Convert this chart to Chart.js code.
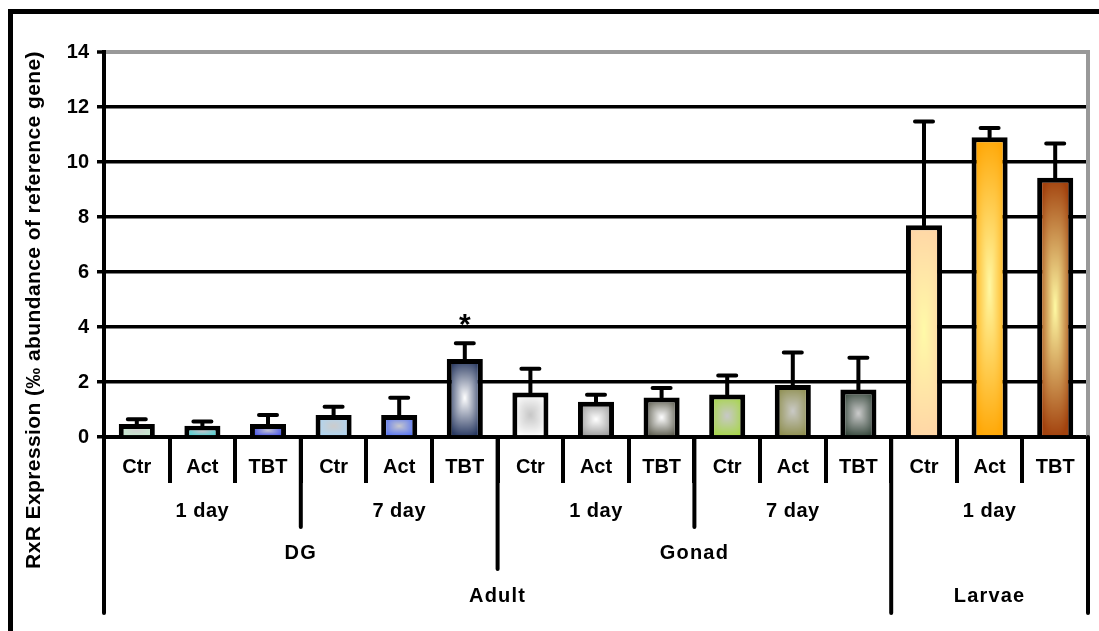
<!DOCTYPE html>
<html>
<head>
<meta charset="utf-8">
<script src="https://cdn.jsdelivr.net/npm/chart.js@4.4.1/dist/chart.umd.min.js"></script>
<style>
  html, body { margin: 0; padding: 0; background: #fff; overflow: hidden; width: 1099px; height: 631px; }
  #wrap { position: relative; width: 1099px; height: 631px; }
  #wrap canvas { position: absolute; left: 0; top: 0; }
  #frame { position: absolute; left: 8px; top: 9px; width: 1200px; height: 700px;
           border: 5px solid #000; box-sizing: border-box; pointer-events: none; }
</style>
</head>
<body>
<div id="wrap">
  <canvas id="chart" width="1099" height="631"></canvas>
  <div id="frame"></div>
</div>
<script>
// ---- data -------------------------------------------------------------
const treatment = ['Ctr', 'Act', 'TBT', 'Ctr', 'Act', 'TBT', 'Ctr', 'Act', 'TBT',
                   'Ctr', 'Act', 'TBT', 'Ctr', 'Act', 'TBT'];
const period = ['1 day', '1 day', '1 day', '7 day', '7 day', '7 day',
                '1 day', '1 day', '1 day', '7 day', '7 day', '7 day',
                '1 day', '1 day', '1 day'];
const tissue = ['DG', 'DG', 'DG', 'DG', 'DG', 'DG',
                'Gonad', 'Gonad', 'Gonad', 'Gonad', 'Gonad', 'Gonad',
                '', '', ''];
const stage = ['Adult', 'Adult', 'Adult', 'Adult', 'Adult', 'Adult',
               'Adult', 'Adult', 'Adult', 'Adult', 'Adult', 'Adult',
               'Larvae', 'Larvae', 'Larvae'];

const expression   = [0.47, 0.41, 0.47, 0.80, 0.80, 2.84, 1.62, 1.28, 1.44, 1.55, 1.89, 1.73, 7.70, 10.90, 9.43];
const expressionSE = [0.18, 0.15, 0.33, 0.30, 0.63, 0.57, 0.86, 0.26, 0.34, 0.69, 1.18, 1.15, 3.77, 0.34, 1.24];
const significance = ['', '', '', '', '', '*', '', '', '', '', '', '', '', '', ''];

const yMin = 0, yMax = 14, yStep = 2;
const yTitle = 'RxR Expression (\u2030 abundance of reference gene)';

// ---- styling ----------------------------------------------------------
const edgeColors   = ['#c4eed0', '#3ed4d4', '#3444ee', '#acd6f6', '#4e6ef6', '#2a3a62',
                      '#ffffff', '#9c9c9c', '#5a5a4c', '#a6d646', '#8e8e4e', '#34463a',
                      '#ffd6a6', '#ffa808', '#a2420e'];
const centerColors = ['#d2d2d2', '#c4c4cc', '#c4c4d0', '#cccccc', '#c8c8cc', '#ffffff',
                      '#c6c6c6', '#ffffff', '#ffffff', '#c8c8c8', '#cacac6', '#cccccc',
                      '#fffaa8', '#fff8a4', '#fffaa4'];
const BAR_PCT = 0.55;
const FONT = 'Arial, "Liberation Sans", Helvetica, sans-serif';

Chart.defaults.font.family = FONT;
Chart.defaults.color = '#000';

function hexRgb(h) {
  const n = parseInt(h.slice(1), 16);
  return [(n >> 16) & 255, (n >> 8) & 255, n & 255];
}

// rounded-rectangle "from centre" gradient painted into a small canvas
const fillCache = {};
function rectGradient(w, h, edge, center) {
  const cv = document.createElement('canvas');
  cv.width = w; cv.height = h;
  const g = cv.getContext('2d');
  const img = g.createImageData(w, h);
  const e = hexRgb(edge), c = hexRgb(center);
  const hw = w / 2, hh = h / 2, p = 3;
  for (let y = 0; y < h; y++) {
    for (let x = 0; x < w; x++) {
      const dx = Math.abs(x + 0.5 - hw) / hw;
      const dy = Math.abs(y + 0.5 - hh) / hh;
      const t = Math.min(1, Math.pow(Math.pow(dx, p) + Math.pow(dy, p), 1 / p));
      const k = (y * w + x) * 4;
      img.data[k]     = Math.round(c[0] + (e[0] - c[0]) * t);
      img.data[k + 1] = Math.round(c[1] + (e[1] - c[1]) * t);
      img.data[k + 2] = Math.round(c[2] + (e[2] - c[2]) * t);
      img.data[k + 3] = 255;
    }
  }
  g.putImageData(img, 0, 0);
  return cv;
}

function barFill(ctx) {
  const i = ctx.dataIndex;
  const chart = ctx.chart;
  const xs = chart.scales.x, ys = chart.scales.y;
  const plain = edgeColors[i] || edgeColors[0];
  if (ctx.type !== 'data' || !xs || !ys || i === undefined) return plain;
  const step = Math.abs(xs.getPixelForValue(1) - xs.getPixelForValue(0));
  const top = ys.getPixelForValue(expression[i]);
  const base = ys.getPixelForValue(0);
  const cx = xs.getPixelForValue(i);
  if (![step, top, base, cx].every(Number.isFinite) || step < 2) return plain;
  const w = Math.max(2, Math.round(step * BAR_PCT));
  const h = Math.max(2, Math.round(base - top));
  const key = i + ':' + w + ':' + h;
  const cv = fillCache[key] || (fillCache[key] = rectGradient(w, h, edgeColors[i], centerColors[i]));
  const pat = chart.ctx.createPattern(cv, 'no-repeat');
  pat.setTransform(new DOMMatrix([1, 0, 0, 1, cx - w / 2, top]));
  return pat;
}

// ---- plugins ----------------------------------------------------------
const errorBars = {
  id: 'errorBars',
  afterDatasetsDraw(chart) {
    const meta = chart.getDatasetMeta(0);
    const ys = chart.scales.y;
    const c = chart.ctx;
    c.save();
    c.strokeStyle = '#000';
    c.lineWidth = 4;
    c.lineCap = 'round';
    meta.data.forEach((bar, i) => {
      const yMean = ys.getPixelForValue(expression[i]);
      const yTop = ys.getPixelForValue(expression[i] + expressionSE[i]);
      c.beginPath();
      c.moveTo(bar.x, yMean);
      c.lineTo(bar.x, yTop);
      c.moveTo(bar.x - 9, yTop);
      c.lineTo(bar.x + 9, yTop);
      c.stroke();
      if (significance[i]) {
        c.fillStyle = '#000';
        c.font = 'bold 30px ' + FONT;
        c.textAlign = 'center';
        c.textBaseline = 'alphabetic';
        c.fillText(significance[i], bar.x, yTop - 9);
      }
    });
    c.restore();
  }
};

// multi-level category labels below the x axis
const groupLevels = [period, tissue, stage];
const rowCenters = [511, 553, 596];
const rowBottoms = [527, 569, 613];
const categoryAxis = {
  id: 'categoryAxis',
  afterDraw(chart) {
    const xs = chart.scales.x;
    const c = chart.ctx;
    const n = treatment.length;
    const edge = b => xs.getPixelForValue(b - 0.5);
    const y0 = chart.chartArea.bottom;
    const depth = new Array(n + 1).fill(-1);
    depth[0] = depth[n] = groupLevels.length - 1;
    const key = (lv, i) => groupLevels.slice(lv).map(a => a[i]).join('|');
    for (let lv = 0; lv < groupLevels.length; lv++) {
      for (let b = 1; b < n; b++) {
        if (key(lv, b) !== key(lv, b - 1)) depth[b] = Math.max(depth[b], lv);
      }
    }
    c.save();
    c.strokeStyle = '#000';
    c.lineWidth = 4;
    c.lineCap = 'round';
    for (let b = 0; b <= n; b++) {
      if (depth[b] < 0) continue;
      const x = edge(b);
      c.beginPath();
      c.moveTo(x, y0);
      c.lineTo(x, rowBottoms[depth[b]]);
      c.stroke();
    }
    c.fillStyle = '#000';
    c.textAlign = 'center';
    c.textBaseline = 'middle';
    groupLevels.forEach((arr, lv) => {
      c.font = 'bold 20px ' + FONT;
      c.letterSpacing = lv === 0 ? '0.5px' : '1.2px';
      let s = 0;
      for (let i = 1; i <= n; i++) {
        if (i === n || key(lv, i) !== key(lv, s)) {
          if (arr[s]) c.fillText(arr[s], (edge(s) + edge(i)) / 2, rowCenters[lv]);
          s = i;
        }
      }
    });
    c.restore();
  }
};

const axisTitle = {
  id: 'axisTitle',
  afterDraw(chart) {
    const c = chart.ctx;
    c.save();
    c.translate(34, 310);
    c.rotate(-Math.PI / 2);
    c.fillStyle = '#000';
    c.font = 'bold 21px ' + FONT;
    c.letterSpacing = '0.4px';
    c.textAlign = 'center';
    c.textBaseline = 'middle';
    c.fillText(yTitle, 0, 0);
    c.restore();
  }
};

// ---- chart ------------------------------------------------------------
new Chart(document.getElementById('chart'), {
  type: 'bar',
  data: {
    labels: treatment,
    datasets: [{
      data: expression,
      backgroundColor: barFill,
      borderColor: '#000',
      borderWidth: 5,
      borderSkipped: 'start',
      categoryPercentage: 1,
      barPercentage: BAR_PCT
    }]
  },
  options: {
    responsive: false,
    animation: false,
    devicePixelRatio: 1,
    layout: { padding: { top: 52, left: 0, right: 11, bottom: 0 } },
    plugins: { legend: { display: false }, tooltip: { enabled: false } },
    scales: {
      x: {
        type: 'category',
        offset: true,
        z: 1,
        grid: { display: true, offset: true, drawOnChartArea: false, drawTicks: true,
                tickLength: 46, tickWidth: 4, tickColor: '#000', color: '#000', lineWidth: 4 },
        border: { display: true, color: '#000', width: 4 },
        ticks: { color: '#000', font: { size: 20, weight: 'bold' }, padding: -28,
                 maxRotation: 0, autoSkip: false },
        afterFit(s) { s.height = 194; }
      },
      y: {
        min: yMin, max: yMax,
        ticks: { stepSize: yStep, color: '#000', font: { size: 20, weight: 'bold' }, padding: 8 },
        grid: {
          color: c => (c.tick && c.tick.value === yMax) ? '#999999' : '#000',
          lineWidth: c => (c.tick && c.tick.value === yMax) ? 4 : 3.5,
          tickColor: '#000', tickLength: 7, tickWidth: 3.5, drawTicks: true
        },
        border: { display: true, color: '#000', width: 4 },
        afterFit(s) { s.width = 104; }
      },
      y2: {
        position: 'right',
        min: yMin, max: yMax,
        grid: { display: true, drawOnChartArea: false, drawTicks: false },
        ticks: { display: false },
        border: { display: true, color: '#999999', width: 4 },
        afterFit(s) { s.width = 0; }
      }
    }
  },
  plugins: [errorBars, categoryAxis, axisTitle]
});
</script>
</body>
</html>
